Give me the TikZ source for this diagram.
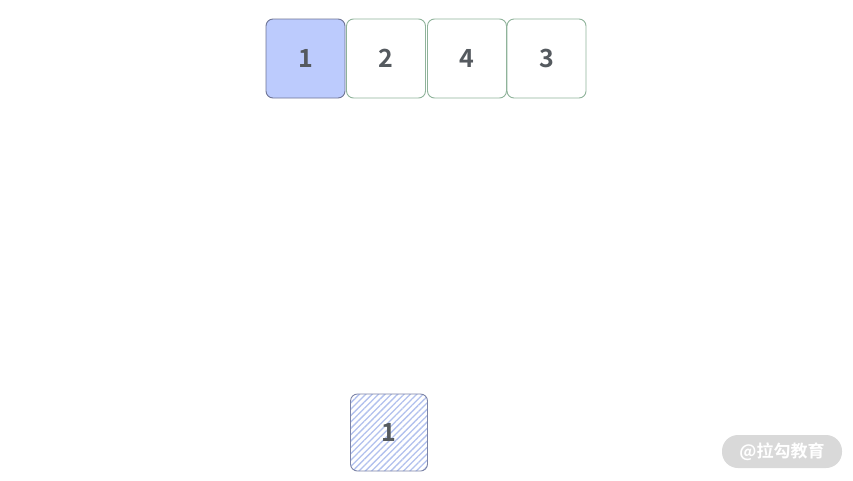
\documentclass[tikz,border=0pt]{standalone}
\usepackage{fontspec}
\newfontfamily\cjk{Noto Sans CJK SC}[BoldFont={Noto Sans CJK SC Bold}]
\usetikzlibrary{patterns.meta}
\definecolor{numc}{HTML}{555A5F}
\definecolor{bluefill}{HTML}{BCCBFD}
\definecolor{blueline}{HTML}{6F7596}
\definecolor{greenline}{HTML}{8FB39A}
\definecolor{hatchc}{HTML}{B2C1EE}
\definecolor{hatchline}{HTML}{7D85A8}
\definecolor{wmfill}{HTML}{D9D9D9}
\tikzset{
  cell/.style={minimum width=79pt, minimum height=79pt, rounded corners=7pt, line width=0.9pt,
    font=\cjk\bfseries\fontsize{25}{25}\selectfont, text=numc, inner sep=0pt},
  activecell/.style={cell, draw=blueline, fill=bluefill},
  plaincell/.style={cell, draw=greenline, fill=white},
  hatchcell/.style={cell, draw=hatchline, minimum width=77pt, minimum height=77pt,
    pattern={Lines[angle=45,distance=4.5pt,line width=1.3pt]}, pattern color=hatchc},
  watermark/.style={fill=wmfill, rounded corners=16pt, minimum width=120pt, minimum height=33pt,
    text=white, font=\cjk\bfseries\fontsize{17}{17}\selectfont, inner sep=0pt}
}
\begin{document}
\begin{tikzpicture}[x=1pt,y=-1pt]
\useasboundingbox[fill=white] (0,0) rectangle (853,480);
\node[activecell] (c1) at (305.5,58.5) {1};
\node[plaincell] (c2) at (386,58.5) {2};
\node[plaincell] (c4) at (467,58.5) {4};
\node[plaincell] (c3) at (546.5,58.5) {3};
\node[hatchcell] (b1) at (389,432.5) {1};
\node[watermark] (wm) at (782,451.5) {@拉勾教育};
\end{tikzpicture}
\end{document}
